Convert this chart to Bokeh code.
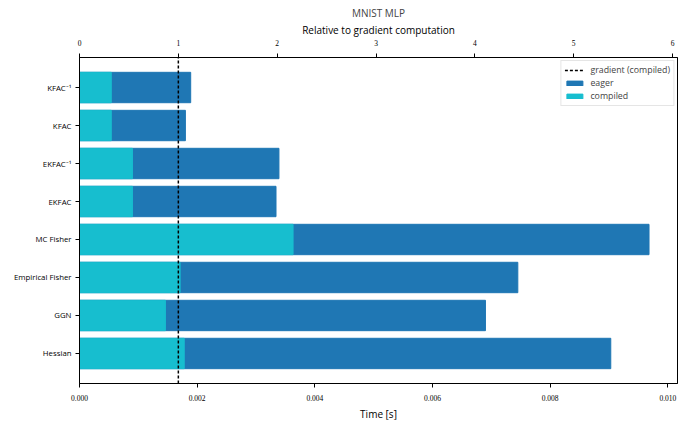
from bokeh.plotting import figure
from bokeh.models import Range1d, LinearAxis, FixedTicker, Legend, LegendItem, ColumnDataSource
from bokeh.embed import file_html
from bokeh.resources import INLINE

# ---- data ----
categories = ["Hessian", "GGN", "Empirical Fisher", "MC Fisher", "EKFAC", "EKFAC⁻¹", "KFAC", "KFAC⁻¹"]
eager = [0.00903, 0.00690, 0.00745, 0.00968, 0.00334, 0.00339, 0.00180, 0.00189]
compiled = [0.00178, 0.00146, 0.00171, 0.00363, 0.00090, 0.00090, 0.00054, 0.00054]
gradient_compiled = 0.00168
x_ticks = [0.000, 0.002, 0.004, 0.006, 0.008, 0.010]
rel_ticks = [0, 1, 2, 3, 4, 5, 6]

ypos = list(range(len(categories)))
x_max = max(eager) * 1.05
y_lo, y_hi = -0.79, len(categories) - 1 + 0.79

src = ColumnDataSource(dict(y=ypos, eager=eager, compiled=compiled))

SANS = "Open Sans"
SERIF = "Liberation Serif"

p = figure(width=686, height=428, output_backend="svg", toolbar_location=None,
           x_range=Range1d(0, x_max), y_range=Range1d(y_lo, y_hi),
           min_border_left=79, min_border_right=9, min_border_top=56, min_border_bottom=45)
p.title.text = "MNIST MLP"
p.title.align = "center"
p.title.text_font = SANS
p.title.text_font_style = "normal"
p.title.text_font_size = "10px"
p.title.standoff = 0
p.title.offset = 0
p.title.padding = dict(top=3, right=0, bottom=0, left=0)

p.xgrid.visible = False
p.ygrid.visible = False
p.outline_line_color = "black"
p.outline_line_width = 1
p.outline_line_alpha = 1

r_eager = p.hbar(y="y", right="eager", left=0, height=0.8, source=src, color="#1f77b4")
r_comp = p.hbar(y="y", right="compiled", left=0, height=0.8, source=src, color="#17becf")
r_grad = p.line(x=[gradient_compiled, gradient_compiled], y=[y_lo, y_hi],
                line_color="black", line_width=1.5, line_dash="3 2")

# bottom axis
xa = p.xaxis[0]
xa.ticker = FixedTicker(ticks=x_ticks)
xa.major_label_overrides = {t: f"{t:.3f}" for t in x_ticks}
xa.axis_label = "Time [s]"
xa.axis_label_text_font = SANS
xa.axis_label_text_font_style = "normal"
xa.axis_label_text_font_size = "10px"
xa.axis_label_standoff = 3
xa.major_label_text_font = SERIF
xa.major_label_text_font_size = "7.5px"
xa.major_label_standoff = 7

# left axis
ya = p.yaxis[0]
ya.ticker = FixedTicker(ticks=ypos)
ya.major_label_overrides = {i: c for i, c in zip(ypos, categories)}
ya.major_label_text_font = SANS
ya.major_label_text_font_size = "7.8px"
ya.major_label_standoff = 4

# top axis relative
p.extra_x_ranges = {"rel": Range1d(0, x_max / gradient_compiled)}
ta = LinearAxis(x_range_name="rel", ticker=FixedTicker(ticks=rel_ticks))
ta.axis_label = "Relative to gradient computation"
ta.axis_label_text_font = SANS
ta.axis_label_text_font_style = "normal"
ta.axis_label_text_font_size = "10px"
ta.axis_label_standoff = 0
ta.major_label_text_font = SERIF
ta.major_label_text_font_size = "7.5px"
ta.major_label_standoff = 8
p.add_layout(ta, "above")

for ax in [xa, ya, ta]:
    ax.axis_line_color = "black"
    ax.major_tick_line_color = "black"
    ax.major_tick_in = 0
    ax.major_tick_out = 4
    ax.minor_tick_line_color = None
    ax.major_label_text_color = "black"
    ax.axis_label_text_color = "black"

legend = Legend(items=[
    LegendItem(label="gradient (compiled)", renderers=[r_grad]),
    LegendItem(label="eager", renderers=[r_eager]),
    LegendItem(label="compiled", renderers=[r_comp]),
], location="top_right")
legend.label_text_font = SANS
legend.label_text_font_size = "8.8px"
legend.label_height = 8
legend.glyph_height = 6
legend.glyph_width = 20
legend.spacing = 1
legend.padding = 3
legend.margin = 3
legend.label_standoff = 6
legend.border_line_color = "#cccccc"
legend.background_fill_alpha = 0.8
p.add_layout(legend)

open("out.html", "w").write(file_html(p, INLINE))
